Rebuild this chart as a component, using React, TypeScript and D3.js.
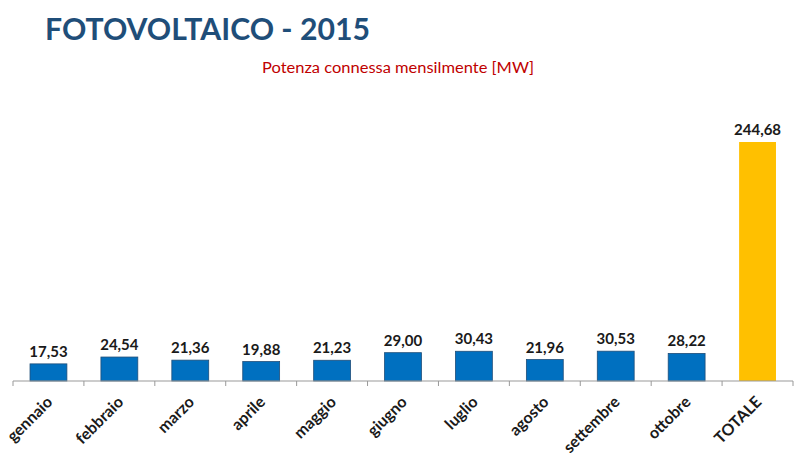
import React from "react";
import * as d3 from "d3";

const categories = ["gennaio", "febbraio", "marzo", "aprile", "maggio", "giugno", "luglio", "agosto", "settembre", "ottobre", "TOTALE"];
const values = [17.53, 24.54, 21.36, 19.88, 21.23, 29.0, 30.43, 21.96, 30.53, 28.22, 244.68];
const title = "FOTOVOLTAICO - 2015";
const subtitle = "Potenza connessa mensilmente [MW]";

const W = 800, H = 457;
const FONT = "Lato, 'Open Sans', sans-serif";

export default function App() {
  const x = d3.scaleBand<string>().domain(categories).range([13, 793]).paddingInner(0.48).paddingOuter(0.24);
  const y = d3.scaleLinear().domain([0, 244.68]).range([381, 142]);
  const step = x.step();
  const fmt = (v: number) => v.toFixed(2).replace(".", ",");
  return (
    <svg width={W} height={H} style={{ position: "absolute", left: 0, top: 0, background: "#fff" }}>
      <text x={45} y={40} fontFamily={FONT} fontWeight={700} fontSize={30} fill="#1f4e79" textLength={325} lengthAdjust="spacingAndGlyphs">{title}</text>
      <text x={262} y={73} fontFamily={FONT} fontSize={15.5} fill="#c00000" textLength={272} lengthAdjust="spacingAndGlyphs">{subtitle}</text>
      {categories.map((c, i) => {
        const v = values[i];
        const bx = x(c)!;
        const isTot = c === "TOTALE";
        return (
          <g key={c}>
            <rect x={bx} y={y(v)} width={x.bandwidth()} height={381 - y(v)}
              fill={isTot ? "#ffc000" : "#0070c0"} stroke={isTot ? "none" : "#1f4e79"} strokeWidth={0.8} />
            <text x={bx + x.bandwidth() / 2} y={y(v) - 7} textAnchor="middle" fontFamily={FONT} fontWeight={700} fontSize={15} fill="#1a1a1a">{fmt(v)}</text>
          </g>
        );
      })}
      <line x1={13} x2={793} y1={381} y2={381} stroke="#999" strokeWidth={1.2} />
      {d3.range(categories.length + 1).map(i => {
        const tx = 13 + i * step;
        return <line key={i} x1={tx} x2={tx} y1={381} y2={386} stroke="#999" strokeWidth={1} />;
      })}
      {categories.map(c => {
        const cx = x(c)! + x.bandwidth() / 2 - 4;
        return (
          <text key={c} transform={`translate(${cx},${394}) rotate(-45)`} textAnchor="end" dominantBaseline="hanging"
            fontFamily={FONT} fontWeight={700} fontSize={16} fill="#1a1a1a">{c}</text>
        );
      })}
    </svg>
  );
}
